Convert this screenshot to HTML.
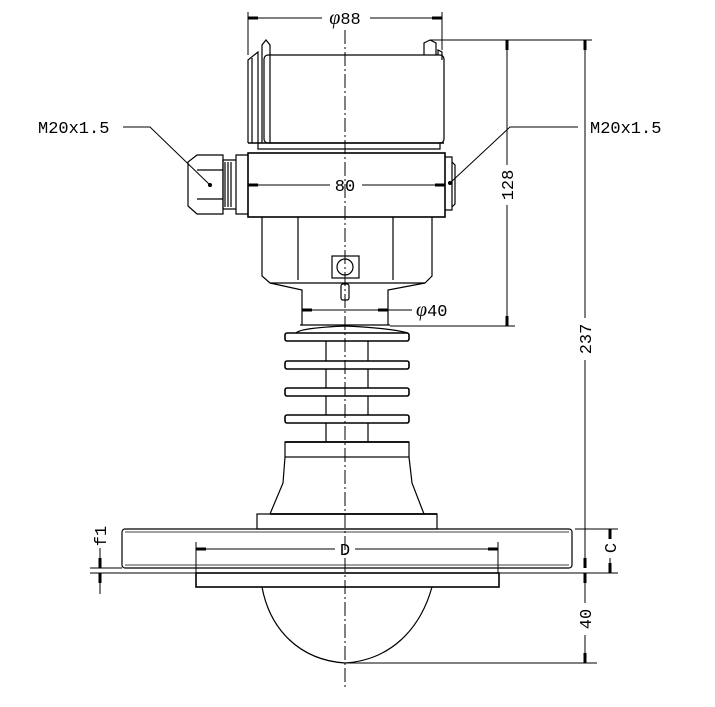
<!DOCTYPE html>
<html><head><meta charset="utf-8"><style>
html,body{margin:0;padding:0;background:#fff;}
svg{display:block;}
text{font-family:"Liberation Mono","DejaVu Sans Mono",monospace;font-size:17px;fill:#000;}
</style></head><body>
<svg width="715" height="707" viewBox="0 0 715 707" xmlns="http://www.w3.org/2000/svg">
<defs>
<marker id="a" viewBox="0 0 10 6" refX="10" refY="3" markerWidth="10" markerHeight="6" orient="auto-start-reverse" markerUnits="userSpaceOnUse"><path d="M0,1.5 L10,1.5 L10,4.5 L0,4.5z" fill="#000"/></marker>
</defs>
<g fill="none" stroke="#000" stroke-width="1.2">
<line x1="345" y1="8" x2="345" y2="690" stroke-width="1" stroke-dasharray="14,3,2,3"/>
<rect x="264" y="55" width="180" height="88" rx="4"/>
<path d="M248,143 V60 L258,52 V143 M252,143 V58 M262,143 V45 L266,40 L270,45 V143"/>
<path d="M424,55 V43 L430,40 L436,43 V55 M438,55 V50 L442,52 V60"/>
<line x1="248" y1="143" x2="444" y2="143" stroke-width="1.6"/>
<path d="M258,143 V149 H440 V143"/>
<rect x="248" y="153" width="197" height="64" stroke-width="1.6"/>
<path d="M445,157 H452 V210 H445 M452,162 L455,165 V204 L452,207"/>
<path d="M248,155 H236 V214 H248"/>
<path d="M236,160 H223 V209 H236 M225,162 V207 M228,162 V207 M231,162 V207"/>
<path d="M223,155 H197 L188,162 V206 L197,214 H223 Z"/>
<line x1="197" y1="170" x2="223" y2="170"/><line x1="197" y1="199" x2="223" y2="199"/>
<path d="M262,217 V276 L270,283 H425 L432,276 V217"/>
<line x1="298" y1="217" x2="298" y2="280"/><line x1="393" y1="217" x2="393" y2="280"/>
<rect x="332" y="256" width="27" height="22"/>
<circle cx="345" cy="267" r="8"/>
<rect x="341" y="284" width="8" height="16" rx="2"/>
<path d="M270,283 L302,290 V325 M425,283 L388,290 V325"/>
<path d="M296,333 Q300,328 345,326 Q390,328 408,333"/>
<line x1="300" y1="325" x2="390" y2="325"/>
<rect x="285" y="333" width="124" height="8" rx="2" stroke-width="1.6"/>
<rect x="285" y="361" width="124" height="8" rx="2" stroke-width="1.6"/>
<rect x="285" y="388" width="124" height="8" rx="2" stroke-width="1.6"/>
<rect x="285" y="415" width="124" height="8" rx="2" stroke-width="1.6"/>
<path d="M326,341 V361 M368,341 V361 M326,369 V388 M368,369 V388 M326,396 V415 M368,396 V415 M326,423 V442 M368,423 V442"/>
<rect x="285" y="442" width="124" height="15"/>
<line x1="285" y1="442" x2="409" y2="442" stroke-width="1.8"/>
<path d="M285,457 L283,483 L270,514 M409,457 L412,483 L424,514"/>
<line x1="270" y1="514" x2="437" y2="514" stroke-width="1.8"/>
<rect x="257" y="514" width="180" height="15"/>
<rect x="122" y="529" width="450" height="39" rx="3"/>
<line x1="125" y1="532" x2="569" y2="532" stroke-width="0.8"/>
<line x1="125" y1="565" x2="569" y2="565" stroke-width="0.8"/>
<rect x="196" y="573" width="303" height="14" stroke-width="1.6"/>
<path d="M262,587 C270,630 300,660 345,663 C390,660 420,630 432,587"/>
</g>
<g fill="none" stroke="#000" stroke-width="1">
<line x1="248" y1="12" x2="248" y2="55"/><line x1="442" y1="12" x2="442" y2="50"/>
<line x1="248" y1="18" x2="322" y2="18" marker-start="url(#a)"/>
<line x1="368" y1="18" x2="442" y2="18" marker-end="url(#a)"/>
<line x1="248" y1="185" x2="330" y2="185" marker-start="url(#a)"/>
<line x1="362" y1="185" x2="445" y2="185" marker-end="url(#a)"/>
<line x1="302" y1="310" x2="388" y2="310" marker-start="url(#a)" marker-end="url(#a)"/>
<line x1="388" y1="310" x2="412" y2="310"/>
<line x1="430" y1="40" x2="592" y2="40"/>
<line x1="390" y1="326" x2="515" y2="326"/>
<line x1="507" y1="40" x2="507" y2="165" marker-start="url(#a)"/>
<line x1="507" y1="205" x2="507" y2="326" marker-end="url(#a)"/>
<line x1="585" y1="40" x2="585" y2="318" marker-start="url(#a)"/>
<line x1="585" y1="360" x2="585" y2="568" marker-end="url(#a)"/>
<line x1="585" y1="573" x2="585" y2="603" marker-start="url(#a)"/>
<line x1="585" y1="635" x2="585" y2="663" marker-end="url(#a)"/>
<line x1="575" y1="529" x2="618" y2="529"/>
<line x1="498" y1="573" x2="618" y2="573"/>
<line x1="345" y1="663" x2="597" y2="663"/>
<line x1="610" y1="529" x2="610" y2="538" marker-start="url(#a)"/>
<line x1="610" y1="558" x2="610" y2="573" marker-end="url(#a)"/>
<line x1="90" y1="568" x2="122" y2="568"/>
<line x1="90" y1="573" x2="196" y2="573"/>
<line x1="100" y1="548" x2="100" y2="568" marker-end="url(#a)"/>
<line x1="100" y1="573" x2="100" y2="594" marker-start="url(#a)"/>
<line x1="196" y1="542" x2="196" y2="573"/><line x1="498" y1="542" x2="498" y2="573"/>
<line x1="196" y1="549" x2="335" y2="549" marker-start="url(#a)"/>
<line x1="355" y1="549" x2="498" y2="549" marker-end="url(#a)"/>
<path d="M123,127 H150 L210,185"/>
<path d="M578,127 H510 L450,183"/>
</g>
<circle cx="210" cy="185" r="2" fill="#000"/><circle cx="450" cy="183" r="2" fill="#000"/>
<rect x="326" y="8" width="44" height="20" fill="#fff"/>
<text x="345" y="24" text-anchor="middle"><tspan font-style="italic" font-family="Liberation Serif" font-size="20">φ</tspan>88</text>
<text x="345" y="191" text-anchor="middle">80</text>
<text x="416" y="316"><tspan font-style="italic" font-family="Liberation Serif" font-size="20">φ</tspan>40</text>
<text x="38" y="133">M20x1.5</text>
<text x="590" y="133">M20x1.5</text>
<text transform="translate(513,185) rotate(-90)" text-anchor="middle">128</text>
<text transform="translate(591,339) rotate(-90)" text-anchor="middle">237</text>
<text transform="translate(591,619) rotate(-90)" text-anchor="middle">40</text>
<text transform="translate(616,548) rotate(-90)" text-anchor="middle">C</text>
<text transform="translate(106,536) rotate(-90)" text-anchor="middle">f1</text>
<text x="345" y="555" text-anchor="middle">D</text>
</svg>
</body></html>
